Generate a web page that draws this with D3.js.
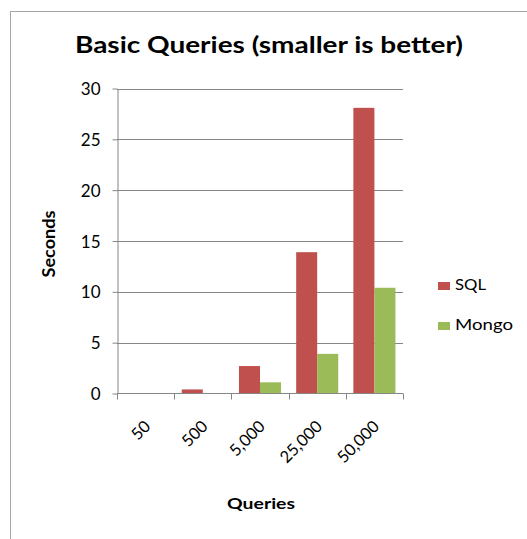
<!DOCTYPE html>
<html><head><meta charset="utf-8">
<script src="https://cdn.jsdelivr.net/npm/d3@7"></script>
<style>body{margin:0;background:#fff}svg{display:block}</style>
</head><body>
<script>
const categories = ["50", "500", "5,000", "25,000", "50,000"];
const sqlValues = [0.02, 0.4, 2.7, 13.9, 28.1];
const mongoValues = [0.01, 0.03, 1.1, 3.9, 10.4];
const seriesNames = ["SQL", "Mongo"];
const yTicks = [0, 5, 10, 15, 20, 25, 30];
const colors = {SQL: "#C0504D", Mongo: "#9BBB59"};

(function () {
const W = 527, H = 539;
const font = "Lato, 'Open Sans', sans-serif";
const svg = d3.select("body").append("svg").attr("width", W).attr("height", H);
svg.append("rect").attr("x", 10.5).attr("y", 11.5).attr("width", 530).attr("height", 540)
  .attr("fill", "#fff").attr("stroke", "#a6a6a6").attr("stroke-width", 1);

const pLeft = 117, pRight = 403, pTop = 88.5, pBottom = 393.5;
const x = d3.scaleBand().domain(categories).range([pLeft, pRight]).paddingInner(0).paddingOuter(0);
const inner = d3.scaleBand().domain(seriesNames).range([0, x.bandwidth()]).paddingInner(0).paddingOuter(0.36);
const y = d3.scaleLinear().domain([0, 30]).range([pBottom, pTop]);

// gridlines
svg.append("g").selectAll("line").data(yTicks.filter(d => d > 0)).join("line")
  .attr("x1", pLeft).attr("x2", pRight)
  .attr("y1", d => Math.round(y(d)) + 0.5).attr("y2", d => Math.round(y(d)) + 0.5)
  .attr("stroke", "#868686").attr("stroke-width", 1);

// bars
const data = categories.map((c, i) => ({c, SQL: sqlValues[i], Mongo: mongoValues[i]}));
const g = svg.append("g");
data.forEach(d => {
  seriesNames.forEach(s => {
    g.append("rect")
      .attr("x", x(d.c) + inner(s))
      .attr("width", inner.bandwidth())
      .attr("y", y(d[s]))
      .attr("height", y(0) - y(d[s]))
      .attr("fill", colors[s]);
  });
});

// y axis
const yAxis = svg.append("g").attr("transform", `translate(${pLeft + 0.5},0)`)
  .call(d3.axisLeft(y).tickValues(yTicks).tickSize(5).tickSizeOuter(0).tickPadding(12));
yAxis.select(".domain").attr("stroke", "#868686");
yAxis.selectAll(".tick line").attr("stroke", "#868686");
yAxis.selectAll("text").attr("font-family", font).attr("font-size", 17).attr("fill", "#000").attr("dy", "0.36em");

// x axis
const xAxis = svg.append("g").attr("transform", `translate(0,${pBottom})`);
xAxis.append("line").attr("x1", pLeft).attr("x2", pRight).attr("y1", 0).attr("y2", 0).attr("stroke", "#868686");
const bounds = categories.map(c => x(c)).concat([pRight]);
xAxis.selectAll("line.tk").data(bounds).join("line").attr("class", "tk")
  .attr("x1", d => Math.round(d) + 0.5).attr("x2", d => Math.round(d) + 0.5)
  .attr("y1", 0).attr("y2", 6).attr("stroke", "#868686");
xAxis.selectAll("text").data(categories).join("text")
  .attr("transform", d => `translate(${x(d) + x.bandwidth() / 2 + 6},${34}) rotate(-45)`)
  .attr("text-anchor", "end")
  .attr("font-family", font).attr("font-size", 16.5).attr("fill", "#000")
  .text(d => d);

// title
svg.append("text").attr("x", 269).attr("y", 53).attr("text-anchor", "middle")
  .attr("font-family", font).attr("font-weight", "bold").attr("font-size", 23.5).attr("fill", "#000")
  .attr("textLength", 388).attr("lengthAdjust", "spacingAndGlyphs")
  .text("Basic Queries (smaller is better)");

// axis titles
svg.append("text").attr("transform", "translate(55,244) rotate(-90)").attr("text-anchor", "middle")
  .attr("font-family", font).attr("font-weight", "bold").attr("font-size", 16.5).attr("fill", "#000")
  .attr("textLength", 67).attr("lengthAdjust", "spacingAndGlyphs")
  .text("Seconds");
svg.append("text").attr("x", 261).attr("y", 509).attr("text-anchor", "middle")
  .attr("font-family", font).attr("font-weight", "bold").attr("font-size", 16).attr("fill", "#000")
  .attr("textLength", 68).attr("lengthAdjust", "spacingAndGlyphs")
  .text("Queries");

// legend
const legLen = {SQL: 31, Mongo: 58};
const leg = svg.append("g");
seriesNames.forEach((s, i) => {
  const ly = 289.5 + i * 40;
  leg.append("rect").attr("x", 438).attr("y", ly - 7.5).attr("width", 12).attr("height", 8).attr("fill", colors[s]);
  leg.append("text").attr("x", 455).attr("y", ly).attr("font-family", font).attr("font-size", 16)
    .attr("textLength", legLen[s]).attr("lengthAdjust", "spacingAndGlyphs")
    .attr("fill", "#000").text(s);
});
})();
</script>
</body></html>
